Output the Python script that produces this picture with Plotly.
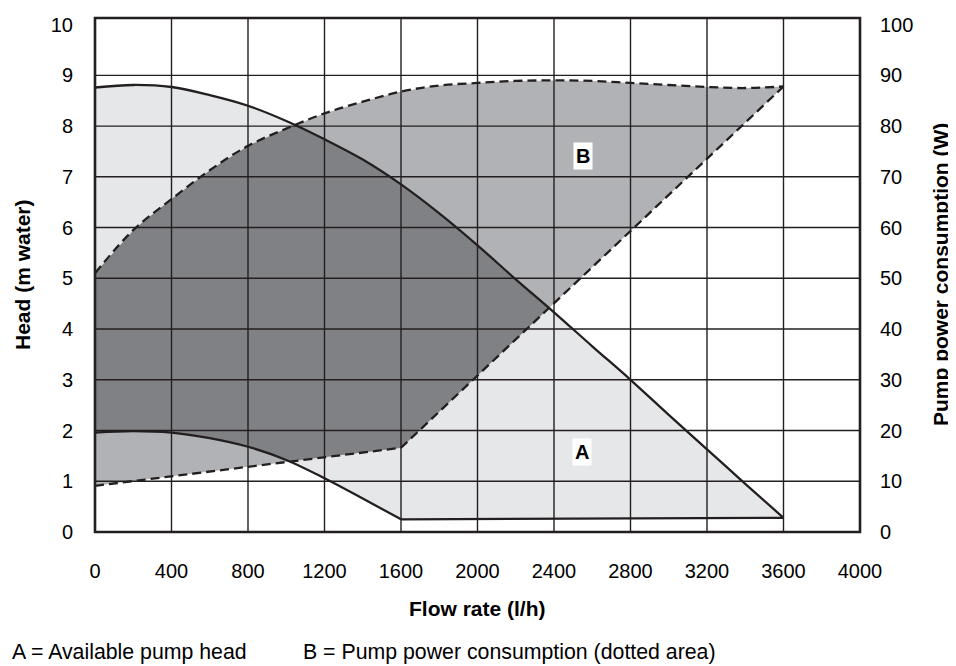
import numpy as np
import plotly.graph_objects as go

# ---------------- data ----------------
# Curve A, upper boundary: maximum available head (m water)
flow_a_top = [0, 200, 400, 600, 800, 1000, 1200, 1400, 1600, 1800, 2000,
              2200, 2400, 2600, 2800, 3000, 3200, 3400, 3600]
head_a_top = [8.76, 8.81, 8.77, 8.61, 8.40, 8.10, 7.74, 7.34, 6.85, 6.28, 5.65,
              4.98, 4.33, 3.66, 3.00, 2.31, 1.63, 0.95, 0.28]
# Curve A, lower boundary: minimum available head (m water)
flow_a_bot = [0, 200, 400, 600, 800, 1000, 1200, 1400, 1600, 3600]
head_a_bot = [1.96, 1.99, 1.96, 1.85, 1.68, 1.42, 1.06, 0.66, 0.25, 0.28]

# Area B, upper boundary: maximum pump power consumption (W)
flow_b_top = [0, 200, 400, 600, 800, 1000, 1200, 1400, 1600, 1800, 2000,
              2200, 2400, 2600, 2800, 3000, 3200, 3400, 3600]
power_b_top = [51.0, 59.5, 65.6, 71.3, 76.1, 79.5, 82.5, 84.8, 86.8, 88.0, 88.5,
               88.9, 89.0, 88.9, 88.5, 88.1, 87.7, 87.5, 87.8]
# Area B, lower boundary: minimum pump power consumption (W)
flow_b_bot = [0, 800, 1600, 3600]
power_b_bot = [9.1, 12.8, 16.6, 87.8]

# Axis ticks
x_ticks = [0, 400, 800, 1200, 1600, 2000, 2400, 2800, 3200, 3600, 4000]
y_ticks = [0, 1, 2, 3, 4, 5, 6, 7, 8, 9, 10]
y2_ticks = [0, 10, 20, 30, 40, 50, 60, 70, 80, 90, 100]

# Label positions (flow, head)
label_a = (2544, 1.58)
label_b = (2554, 7.42)

# ---------------- styling ----------------
FONT = "Liberation Sans, Arial, sans-serif"
INK = "#231f20"
C_A = "#e6e7e8"
C_B = "#b1b2b5"
C_AB = "#808184"
Y_MAX = 10.13
W_PER_M = 10.0  # right axis units per left axis unit

# power converted to the head axis scale (both axes share the same grid)
b_top_h = [p / W_PER_M for p in power_b_top]
b_bot_h = [p / W_PER_M for p in power_b_bot]

fig = go.Figure()

# Area A (light grey)
fig.add_trace(go.Scatter(
    x=flow_a_top + flow_a_bot[::-1],
    y=head_a_top + head_a_bot[::-1],
    fill="toself", fillcolor=C_A, line=dict(width=0), mode="lines",
    hoverinfo="skip", showlegend=False))

# Area B (medium grey)
fig.add_trace(go.Scatter(
    x=flow_b_top + flow_b_bot[::-1],
    y=b_top_h + b_bot_h[::-1],
    fill="toself", fillcolor=C_B, line=dict(width=0), mode="lines",
    hoverinfo="skip", showlegend=False))

# Overlap of A and B (dark grey)
g = np.unique(np.concatenate([np.linspace(0, 3600, 1441), flow_a_top, flow_a_bot,
                              flow_b_top, flow_b_bot]).astype(float))
ua = np.interp(g, flow_a_top, head_a_top)
la = np.interp(g, flow_a_bot, head_a_bot)
ub = np.interp(g, flow_b_top, b_top_h)
lb = np.interp(g, flow_b_bot, b_bot_h)
hi = np.minimum(ua, ub)
lo = np.maximum(la, lb)
m = hi >= lo
gx = g[m]
fig.add_trace(go.Scatter(
    x=list(gx) + list(gx[::-1]),
    y=list(hi[m]) + list(lo[m][::-1]),
    fill="toself", fillcolor=C_AB, line=dict(width=0), mode="lines",
    hoverinfo="skip", showlegend=False))

SOLID = dict(color=INK, width=2.3)
DASHED = dict(color=INK, width=2.3, dash="9px,5px")

# Solid curves of A
fig.add_trace(go.Scatter(x=flow_a_top, y=head_a_top, mode="lines", line_shape="spline",
                         line=SOLID, hoverinfo="skip", showlegend=False))
fig.add_trace(go.Scatter(x=flow_a_bot[:-1], y=head_a_bot[:-1], mode="lines",
                         line_shape="spline", line=SOLID, hoverinfo="skip", showlegend=False))
fig.add_trace(go.Scatter(x=flow_a_bot[-2:], y=head_a_bot[-2:], mode="lines",
                         line=SOLID, hoverinfo="skip", showlegend=False))
# Dashed boundaries of B
fig.add_trace(go.Scatter(x=flow_b_top, y=b_top_h, mode="lines", line_shape="spline",
                         line=DASHED, hoverinfo="skip", showlegend=False))
fig.add_trace(go.Scatter(x=flow_b_bot, y=b_bot_h, mode="lines",
                         line=DASHED, hoverinfo="skip", showlegend=False))
# invisible trace so the power axis is drawn
fig.add_trace(go.Scatter(x=flow_b_top, y=power_b_top, mode="lines", yaxis="y2",
                         line=dict(width=0), opacity=0, hoverinfo="skip", showlegend=False))

# Grid lines on top of the fills
shapes = []
for xv in x_ticks[1:-1]:
    shapes.append(dict(type="line", xref="x", yref="paper", x0=xv, x1=xv, y0=0, y1=1,
                       line=dict(color=INK, width=1.4), layer="above"))
for yv in y_ticks[1:-1]:
    shapes.append(dict(type="line", xref="paper", yref="y", x0=0, x1=1, y0=yv, y1=yv,
                       line=dict(color=INK, width=1.4), layer="above"))
# frame
shapes.append(dict(type="rect", xref="paper", yref="paper", x0=0, x1=1, y0=0, y1=1,
                   line=dict(color=INK, width=2.6), layer="above"))

annotations = []
for txt, (fx, hy) in (("A", label_a), ("B", label_b)):
    annotations.append(dict(x=fx, y=hy, xref="x", yref="y", text="<b>%s</b>" % txt,
                            showarrow=False, bgcolor="white", borderpad=2,
                            font=dict(family=FONT, size=20, color="black")))
annotations += [
    dict(xref="paper", yref="paper", x=0, y=0.5, xshift=-73, text="<b>Head (m water)</b>",
         textangle=-90, showarrow=False, xanchor="center", yanchor="middle",
         font=dict(family=FONT, size=21, color="black")),
    dict(xref="paper", yref="paper", x=1, y=0.5, xshift=80,
         text="<b>Pump power consumption (W)</b>",
         textangle=-90, showarrow=False, xanchor="center", yanchor="middle",
         font=dict(family=FONT, size=21, color="black")),
    dict(xref="paper", yref="paper", x=0.5, y=0, yshift=-76, text="<b>Flow rate (l/h)</b>",
         showarrow=False, xanchor="center", yanchor="middle",
         font=dict(family=FONT, size=21, color="black")),
    dict(xref="paper", yref="paper", x=0, y=0, xshift=-85, yshift=-120,
         text="A = Available pump head", showarrow=False, xanchor="left", yanchor="middle",
         font=dict(family=FONT, size=21.3, color="black")),
    dict(xref="paper", yref="paper", x=0, y=0, xshift=206, yshift=-120,
         text="B = Pump power consumption (dotted area)", showarrow=False,
         xanchor="left", yanchor="middle",
         font=dict(family=FONT, size=21.3, color="black")),
]

# The page body has an 8 px margin, so the figure is sized to fit the window.
fig.update_layout(
    width=948, height=658,
    margin=dict(l=87, r=96, t=6, b=134, pad=0),
    paper_bgcolor="white", plot_bgcolor="white",
    font=dict(family=FONT, size=20, color="black"),
    shapes=shapes, annotations=annotations,
    xaxis=dict(range=[0, 4000], tickvals=x_ticks, showgrid=False, zeroline=False,
               showline=False, ticks="", ticklabelstandoff=25,
               tickfont=dict(family=FONT, size=20, color="black")),
    yaxis=dict(range=[0, Y_MAX], tickvals=y_ticks, showgrid=False, zeroline=False,
               showline=False, ticks="", ticklabelstandoff=21,
               tickfont=dict(family=FONT, size=20, color="black")),
    yaxis2=dict(range=[0, Y_MAX * W_PER_M], tickvals=y2_ticks, overlaying="y", side="right",
                showgrid=False, zeroline=False, showline=False, ticks="",
                ticklabelstandoff=19,
                tickfont=dict(family=FONT, size=20, color="black")),
)

fig.write_html("out.html")
